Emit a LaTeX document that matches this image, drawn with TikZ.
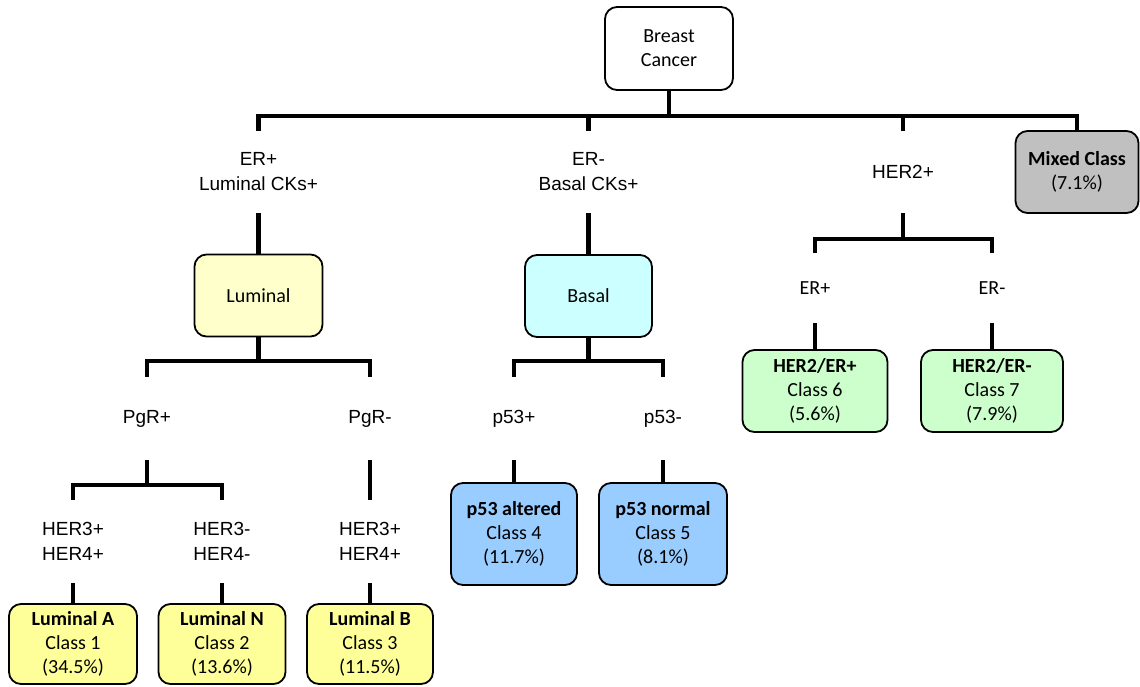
\documentclass[tikz,border=0pt]{standalone}
\usepackage{fontspec}
\setmainfont{Carlito}
\newfontfamily\arialfont{Liberation Sans}
\usepackage{xcolor}
\usepackage{tikz}
\definecolor{mixgray}{HTML}{C0C0C0}
\definecolor{lumfill}{HTML}{FFFFCC}
\definecolor{basfill}{HTML}{CCFFFF}
\definecolor{herfill}{HTML}{CCFFCC}
\definecolor{pfill}{HTML}{99CCFF}
\definecolor{classfill}{HTML}{FFFF99}

\begin{document}
\begin{tikzpicture}[x=0.5pt, y=-0.5pt,
	box/.style={draw=black, line width=0.9pt, rounded corners=6pt, align=center, inner sep=0pt, font=\fontsize{10}{12}\selectfont},
	lbl/.style={align=center, inner sep=0pt, font=\arialfont\fontsize{9.5}{12.5}\selectfont},
	clbl/.style={align=center, inner sep=0pt, font=\fontsize{10}{12}\selectfont},
	tree/.style={line width=2.25pt}]
	\useasboundingbox (0,0) rectangle (1140,686);
	\node[box, fill=white, minimum width=64pt, minimum height=41.5pt](bc) at (669,48.5){Breast\\Cancer};
	\node[lbl, minimum height=41pt](erp) at (258.5,172){ER+\\Luminal CKs+};
	\node[lbl, minimum height=41pt](ern) at (588.5,172){ER-\\Basal CKs+};
	\node[lbl, minimum height=41pt](her) at (903,172){HER2+};
	\node[box, fill=mixgray, minimum width=61.5pt, minimum height=41pt](mix) at (1077,172){\textbf{Mixed Class}\\(7.1\%)};
	\node[box, fill=lumfill, minimum width=64pt, minimum height=41pt](lum) at (258.5,295.5){Luminal};
	\node[box, fill=basfill, minimum width=63.5pt, minimum height=41pt](bas) at (588.5,296){Basal};
	\node[clbl, minimum height=35pt](herp) at (815,288){ER+};
	\node[clbl, minimum height=35pt](hern) at (992,288){ER-};
	\node[box, fill=herfill, minimum width=72.5pt, minimum height=41pt](h6) at (815,391){\textbf{HER2/ER+}\\Class 6\\(5.6\%)};
	\node[box, fill=herfill, minimum width=71pt, minimum height=41pt](h7) at (992,391){\textbf{HER2/ER-}\\Class 7\\(7.9\%)};
	\node[lbl, minimum height=41.5pt](pgrp) at (147,418.5){PgR+};
	\node[lbl, minimum height=41.5pt](pgrn) at (370,418.5){PgR-};
	\node[lbl, minimum height=41.5pt](p53p) at (514,418.5){p53+};
	\node[lbl, minimum height=41.5pt](p53n) at (663,418.5){p53-};
	\node[box, fill=pfill, minimum width=63pt, minimum height=51pt](p4) at (514,534){\textbf{p53 altered}\\Class 4\\(11.7\%)};
	\node[box, fill=pfill, minimum width=64pt, minimum height=51pt](p5) at (663,534){\textbf{p53 normal}\\Class 5\\(8.1\%)};
	\node[lbl, minimum height=41.5pt](h34a) at (73,541.5){HER3+\\HER4+};
	\node[lbl, minimum height=41.5pt](h34b) at (222,541.5){HER3-\\HER4-};
	\node[lbl, minimum height=41.5pt](h34c) at (370,541.5){HER3+\\HER4+};
	\node[box, fill=classfill, minimum width=64pt, minimum height=40pt](la) at (73,644){\textbf{Luminal A}\\Class 1\\(34.5\%)};
	\node[box, fill=classfill, minimum width=63.5pt, minimum height=40pt](ln) at (222,644){\textbf{Luminal N}\\Class 2\\(13.6\%)};
	\node[box, fill=classfill, minimum width=63pt, minimum height=40pt](lb) at (370,644){\textbf{Luminal B}\\Class 3\\(11.5\%)};
	\coordinate(top) at (669,116);
	\coordinate(hbus) at (903,239);
	\coordinate(lbus) at (258.5,361);
	\coordinate(bbus) at (588.5,361);
	\coordinate(pbus) at (147,485);
	\draw[tree] (bc.south) -- (top);
	\draw[tree] (erp.north) |- (top) -| (mix.north);
	\draw[tree] (ern.north) -- (ern.north |- top);
	\draw[tree] (her.north) -- (her.north |- top);
	\draw[tree] (erp.south) -- (lum.north);
	\draw[tree] (ern.south) -- (bas.north);
	\draw[tree] (her.south) -- (hbus);
	\draw[tree] (herp.north) |- (hbus) -| (hern.north);
	\draw[tree] (herp.south) -- (h6.north);
	\draw[tree] (hern.south) -- (h7.north);
	\draw[tree] (lum.south) -- (lbus);
	\draw[tree] (pgrp.north) |- (lbus) -| (pgrn.north);
	\draw[tree] (bas.south) -- (bbus);
	\draw[tree] (p53p.north) |- (bbus) -| (p53n.north);
	\draw[tree] (p53p.south) -- (p4.north);
	\draw[tree] (p53n.south) -- (p5.north);
	\draw[tree] (pgrp.south) -- (pbus);
	\draw[tree] (h34a.north) |- (pbus) -| (h34b.north);
	\draw[tree] (pgrn.south) -- (h34c.north);
	\draw[tree] (h34a.south) -- (la.north);
	\draw[tree] (h34b.south) -- (ln.north);
	\draw[tree] (h34c.south) -- (lb.north);
\end{tikzpicture}
\end{document}
